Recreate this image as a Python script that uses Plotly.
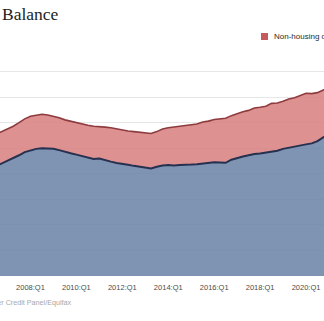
import plotly.graph_objects as go

# Quarterly periods, 2006:Q3 through 2021:Q1
quarters = [f"{y}:Q{q}" for y in range(2006, 2022) for q in range(1, 5)]
quarters = quarters[quarters.index("2006:Q3"):quarters.index("2021:Q1") + 1]

# Housing debt balance, trillions of dollars
housing = [
    8.60, 8.80, 9.00, 9.20, 9.45, 9.70, 9.85, 9.95, 10.00, 10.00,
    9.95, 9.85, 9.70, 9.60, 9.50, 9.40, 9.25, 9.15, 9.20, 9.05,
    8.95, 8.85, 8.80, 8.70, 8.62, 8.55, 8.45, 8.42, 8.55, 8.65,
    8.68, 8.65, 8.68, 8.68, 8.72, 8.75, 8.80, 8.85, 8.90, 8.88,
    8.86, 9.10, 9.25, 9.35, 9.45, 9.55, 9.58, 9.65, 9.72, 9.80,
    9.95, 10.05, 10.12, 10.20, 10.30, 10.38, 10.55, 10.85, 11.10,
]

# Total debt balance (housing + non-housing), trillions of dollars
total = [
    11.10, 11.30, 11.50, 11.72, 12.00, 12.30, 12.50, 12.60, 12.66, 12.60,
    12.50, 12.38, 12.22, 12.10, 12.00, 11.90, 11.80, 11.72, 11.70, 11.65,
    11.60, 11.50, 11.42, 11.35, 11.30, 11.25, 11.18, 11.15, 11.30, 11.50,
    11.60, 11.65, 11.75, 11.80, 11.85, 11.90, 12.05, 12.12, 12.25, 12.30,
    12.35, 12.55, 12.72, 12.85, 12.96, 13.15, 13.21, 13.29, 13.51, 13.54,
    13.67, 13.86, 13.95, 14.15, 14.30, 14.27, 14.35, 14.56, 14.64,
]

tick_years = [2004, 2006, 2008, 2010, 2012, 2014, 2016, 2018, 2020, 2022]
tick_labels = [f"{y}:Q1" for y in tick_years]


def to_year(label):
    y, q = label.split(":Q")
    return int(y) + (int(q) - 1) / 4


x = [to_year(q) for q in quarters]

fig = go.Figure()
fig.add_trace(go.Scatter(
    x=x, y=housing, name="Housing debt", mode="lines",
    line=dict(color="#26304f", width=2),
    fill="tozeroy", fillcolor="rgba(103,129,164,0.85)",
    hoverinfo="skip",
))
fig.add_trace(go.Scatter(
    x=x, y=total, name="Non-housing debt", mode="lines",
    line=dict(color="#8e3b3e", width=1.6),
    fill="tonexty", fillcolor="rgba(216,126,126,0.85)",
    hoverinfo="skip",
))

W, H = 324, 321
top, bottom = 46, 45
plot_h = H - top - bottom


def py(pixel_y):
    return (H - bottom - pixel_y) / plot_h


def px(pixel_x):
    return pixel_x / W


fig.add_annotation(
    text="Balance", xref="paper", yref="paper", x=px(-0.5), y=py(14),
    xanchor="left", yanchor="middle", showarrow=False,
    font=dict(family="Liberation Serif", size=17.5, color="#1e1e1e"),
)
fig.add_shape(
    type="rect", xref="paper", yref="paper",
    x0=px(261), x1=px(268), y0=py(40), y1=py(33),
    fillcolor="#c65a5c", line=dict(width=0),
)
fig.add_annotation(
    text="Non-housing debt", xref="paper", yref="paper", x=px(272), y=py(36.5),
    xanchor="left", yanchor="middle", showarrow=False,
    font=dict(family="Liberation Sans", size=8, color="#2a2a2a"),
)
fig.add_annotation(
    text="Source: New York Fed Consumer Credit Panel/Equifax",
    xref="paper", yref="paper", x=px(74), y=py(302),
    xanchor="right", yanchor="middle", showarrow=False,
    font=dict(family="Liberation Sans", size=7.2, color="#a8a8a8"),
)

fig.update_layout(
    width=W, height=H,
    margin=dict(l=0, r=0, t=top, b=bottom, pad=0),
    paper_bgcolor="white", plot_bgcolor="white",
    showlegend=False,
    xaxis=dict(
        range=[2006.672, 2020.783], tickvals=tick_years, ticktext=tick_labels,
        showgrid=False, zeroline=False, showline=False, ticks="",
        ticklabelstandoff=5,
        tickfont=dict(family="Liberation Sans", size=7.5, color="#4a4a4a"),
    ),
    yaxis=dict(
        range=[0, 18], dtick=2, showticklabels=False,
        showgrid=True, gridcolor="#e6e6e6", gridwidth=1,
        zeroline=False, showline=False, ticks="",
    ),
)

fig.write_html("out.html")
